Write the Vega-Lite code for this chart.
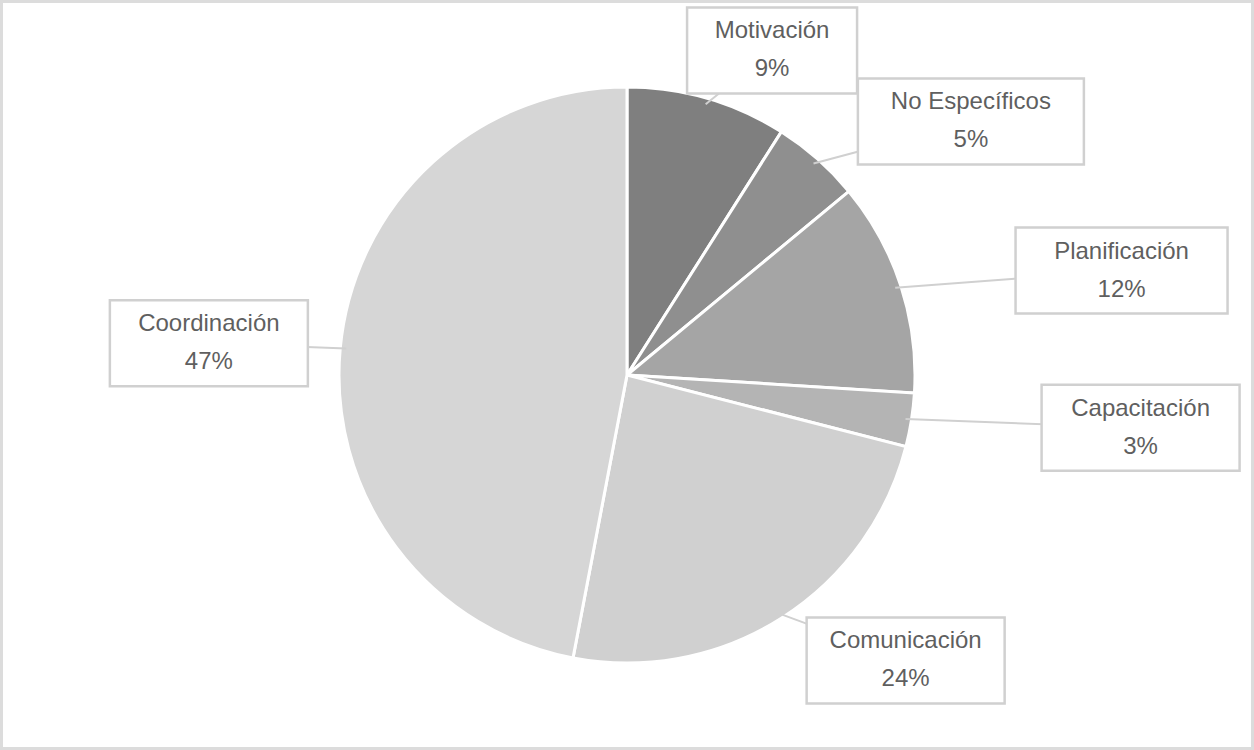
{
  "$schema": "https://vega.github.io/schema/vega-lite/v6.json",
  "width": 1254,
  "height": 750,
  "autosize": {"type": "fit", "contains": "padding"},
  "padding": 0,
  "background": "white",
  "config": {"view": {"stroke": "#dcdcdc", "strokeWidth": 6}},
  "data": {
    "values": [
      {"category": "Motivación", "value": 9},
      {"category": "No Específicos", "value": 5},
      {"category": "Planificación", "value": 12},
      {"category": "Capacitación", "value": 3},
      {"category": "Comunicación", "value": 24},
      {"category": "Coordinación", "value": 47}
    ]
  },
  "transform": [
    {"window": [{"op": "row_number", "as": "idx"}]},
    {"joinaggregate": [{"op": "sum", "field": "value", "as": "total"}]},
    {"window": [{"op": "sum", "field": "value", "as": "cum"}], "sort": [{"field": "idx"}], "frame": [null, 0]},
    {"calculate": "2*PI*(datum.cum-datum.value/2)/datum.total", "as": "mid"},
    {"calculate": "sin(datum.mid)*(sin(datum.mid)<0?420:520)", "as": "lx"},
    {"calculate": "cos(datum.mid)*338", "as": "ly"},
    {"calculate": "sin(datum.mid)*282", "as": "px"},
    {"calculate": "cos(datum.mid)*282", "as": "py"},
    {"calculate": "length(datum.category)*7+15", "as": "hw"},
    {"calculate": "datum.lx-datum.hw", "as": "bx1"},
    {"calculate": "datum.lx+datum.hw", "as": "bx2"},
    {"calculate": "datum.ly-43", "as": "by1"},
    {"calculate": "datum.ly+43", "as": "by2"},
    {"calculate": "datum.category+'\\n'+datum.value+'%'", "as": "label"}
  ],
  "layer": [
    {
      "mark": {"type": "arc", "outerRadius": 288, "stroke": "white", "strokeWidth": 3},
      "encoding": {
        "theta": {"field": "value", "type": "quantitative", "stack": true},
        "order": {"field": "idx", "type": "quantitative"},
        "color": {
          "field": "category",
          "type": "nominal",
          "scale": {
            "domain": ["Motivación", "No Específicos", "Planificación", "Capacitación", "Comunicación", "Coordinación"],
            "range": ["#7f7f7f", "#8f8f8f", "#a5a5a5", "#b4b4b4", "#d0d0d0", "#d6d6d6"]
          },
          "legend": null
        }
      }
    },
    {
      "mark": {"type": "rule", "color": "#d0d0d0", "strokeWidth": 2},
      "encoding": {
        "x": {"field": "px", "type": "quantitative", "scale": {"domain": [-627, 627], "nice": false, "zero": false}, "axis": null},
        "y": {"field": "py", "type": "quantitative", "scale": {"domain": [-375, 375], "nice": false, "zero": false}, "axis": null},
        "x2": {"field": "lx"},
        "y2": {"field": "ly"}
      }
    },
    {
      "mark": {"type": "rect", "fill": "white", "stroke": "#d0d0d0", "strokeWidth": 2.5},
      "encoding": {
        "x": {"field": "bx1", "type": "quantitative"},
        "x2": {"field": "bx2"},
        "y": {"field": "by1", "type": "quantitative"},
        "y2": {"field": "by2"}
      }
    },
    {
      "mark": {"type": "text", "lineBreak": "\n", "fontSize": 24, "letterSpacing": 1.2, "lineHeight": 38, "dy": -19, "color": "#5f5f5f", "font": "Liberation Sans", "align": "center", "baseline": "middle"},
      "encoding": {
        "x": {"field": "lx", "type": "quantitative"},
        "y": {"field": "ly", "type": "quantitative"},
        "text": {"field": "label", "type": "nominal"}
      }
    }
  ]
}
